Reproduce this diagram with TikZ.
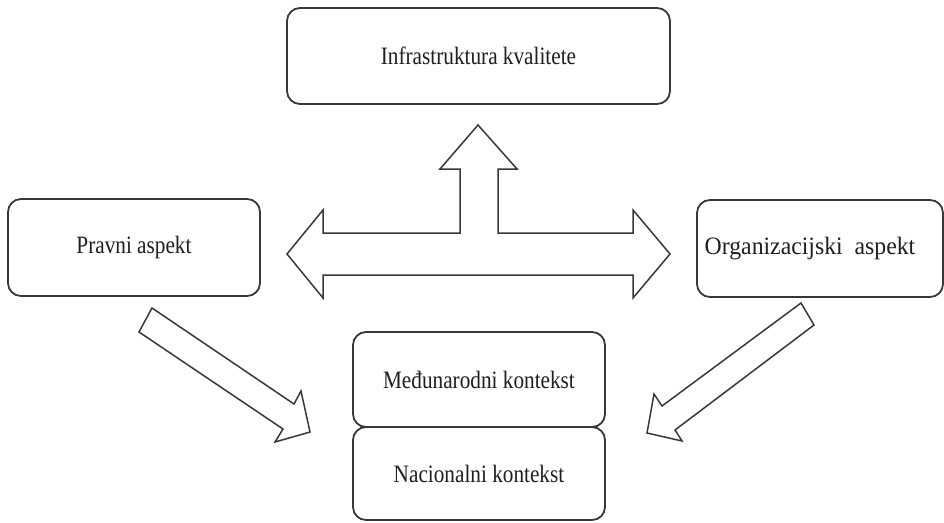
\documentclass[tikz,border=0pt]{standalone}
\usepackage{fontspec}
\setmainfont{Liberation Serif}
\newfontfamily\narrowserif[FakeStretch=0.85]{Liberation Serif}
\newfontfamily\wideserif[FakeStretch=0.95]{Liberation Serif}
\begin{document}
\begin{tikzpicture}[x=1pt,y=-1pt,
  box/.style={draw=black!78, line width=1.8pt, rounded corners=13pt, fill=white,
    font=\narrowserif\fontsize{25}{30}\selectfont, text=black!88, inner sep=0pt},
  blockarrow/.style={draw=black!78, line width=1.5pt, fill=white, line join=miter}]
\useasboundingbox (0,0) rectangle (944,522);

% boxes
\node[box, minimum width=383pt, minimum height=96pt] (infra) at (478.5,56) {Infrastruktura kvalitete};
\node[box, minimum width=252pt, minimum height=97pt] (pravni) at (134,247.5) {Pravni aspekt};
\node[box, minimum width=246pt, minimum height=97pt, font=\wideserif\fontsize{25}{30}\selectfont] (org) at (820,248.5)
  {\raisebox{-3pt}{Organizacijski\ \ aspekt}\hspace*{20pt}};
\node[box, minimum width=252pt, minimum height=95pt] (medj) at (479,379.5) {Međunarodni kontekst};
\node[box, minimum width=252pt, minimum height=93pt] (nac) at (479,473.5) {Nacionalni kontekst};

% three-headed block arrow between the aspects and the infrastructure
\draw[blockarrow] (478,125) -- (517,169) -- (498,169) -- (498,233) -- (633,233)
  -- (633,210) -- (670,254) -- (633,298) -- (633,275) -- (323,275) -- (323,298)
  -- (287,254) -- (323,210) -- (323,233) -- (460,233) -- (460,169) -- (440,169) -- cycle;

% block arrow from the legal aspect down to the contexts
\draw[blockarrow] (152,308) -- (294,404) -- (301,391) -- (310,432) -- (275,442)
  -- (283,429) -- (139,332) -- cycle;

% block arrow from the organisational aspect down to the contexts
\draw[blockarrow] (801,303) -- (662,406) -- (654,394) -- (647,433) -- (682,441)
  -- (675,430) -- (814,325) -- cycle;
\end{tikzpicture}
\end{document}
